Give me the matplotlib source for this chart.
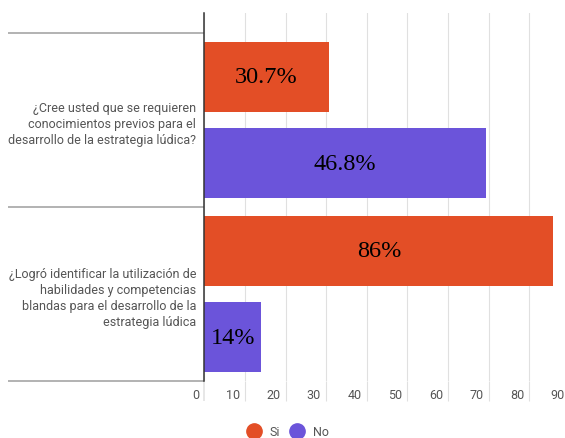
import matplotlib.pyplot as plt
from matplotlib.lines import Line2D
from matplotlib.transforms import ScaledTranslation

plt.rcParams["font.family"] = ["Roboto", "DejaVu Sans"]

preguntas = [
    "¿Cree usted que se requieren\nconocimientos previos para el\ndesarrollo de la estrategia lúdica?",
    "¿Logró identificar la utilización de\nhabilidades y competencias\nblandas para el desarrollo de la\nestrategia lúdica",
]
si = [30.7, 86]
no = [69.3, 14]
etiquetas_si = ["30.7%", "86%"]
etiquetas_no = ["46.8%", "14%"]
xticks = list(range(0, 100, 10))

c_si = "#e34e26"
c_no = "#6b54da"
gris = "#555555"

fig = plt.figure(figsize=(5.65, 4.39), dpi=100)
ax = fig.add_axes([204.3 / 565, 1 - 382 / 439, 365.4 / 565, 368 / 439])

pos = list(range(len(preguntas)))
b1 = ax.barh([p - 0.248 for p in pos], si, height=0.4, color=c_si)
b2 = ax.barh([p + 0.248 for p in pos], no, height=0.4, color=c_no)
ax.bar_label(b1, labels=etiquetas_si, label_type="center", family="Liberation Serif", fontsize=17.5)
ax.bar_label(b2, labels=etiquetas_no, label_type="center", family="Liberation Serif", fontsize=17.5)

ax.set_xlim(0, 90)
ax.set_ylim(1.5, -0.615)

# x axis: gridlines that run through the tick label row
ax.set_xticks(xticks)
ax.grid(axis="x", color="#e0e0e0", lw=0.8)
ax.set_axisbelow(True)
ax.tick_params(axis="x", length=14.4, width=0.8, color="#e0e0e0", pad=-9.7,
               labelsize=9, labelcolor=gris)
zero = ax.xaxis.get_major_ticks()[0]
zero.tick1line.set_color("#333333")
zero.tick1line.set_markeredgewidth(1.1)
off = ScaledTranslation(-5 / 100, 0, fig.dpi_scale_trans)
for lab in ax.get_xticklabels():
    lab.set_horizontalalignment("right")
    lab.set_transform(lab.get_transform() + off)

# y axis: category labels and separator lines
ax.set_yticks(pos)
ax.set_yticklabels(preguntas)
ax.set_yticks([-0.5, 0.5, 1.5], minor=True)
ax.tick_params(axis="y", which="major", length=0, pad=5.8, labelsize=9, labelcolor=gris)
ax.tick_params(axis="y", which="minor", length=141, width=1.1, color="#9e9e9e")
plt.setp(ax.get_yticklabels(), linespacing=1.3, multialignment="right")

for s in ["top", "right", "bottom"]:
    ax.spines[s].set_visible(False)
ax.spines["left"].set_color("#333333")
ax.spines["left"].set_linewidth(1.1)

handles = [
    Line2D([], [], marker="o", ls="", markersize=11, color=c_si, label="Si"),
    Line2D([], [], marker="o", ls="", markersize=11, color=c_no, label="No"),
]
fig.legend(handles=handles, loc="center", bbox_to_anchor=(285 / 565, 1 - 433 / 439),
           ncol=2, frameon=False, fontsize=9, handletextpad=0.3, columnspacing=0.3,
           labelcolor=gris)

fig.savefig("out.png", dpi=100)
